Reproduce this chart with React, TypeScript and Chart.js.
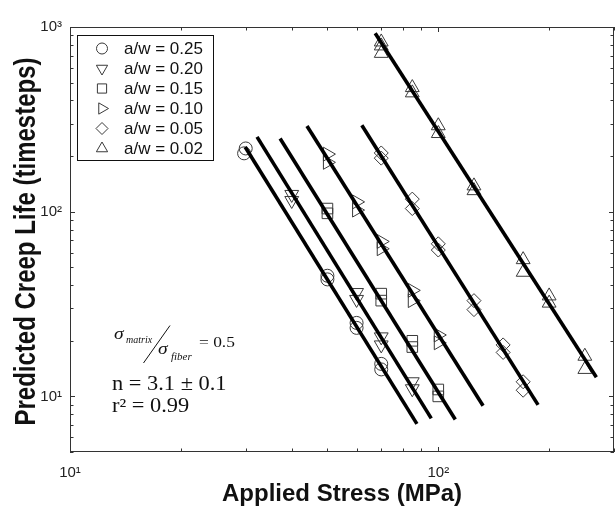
import React, { useEffect, useRef } from 'react';
import { Chart, registerables } from 'chart.js';

Chart.register(...registerables);

// ---- Axis ticks / titles ----
const xTickValues = [10, 100];
const xTickLabels = ['10¹', '10²'];
const yTickValues = [10, 100, 1000];
const yTickLabels = ['10¹', '10²', '10³'];
const xRange = [10, 300];
const yRange = [5, 1000];
const xTitle = 'Applied Stress (MPa)';
const yTitle = 'Predicted Creep Life (timesteps)';

// ---- Series (a/w) ----
const seriesLabels = ['a/w = 0.25', 'a/w = 0.20', 'a/w = 0.15', 'a/w = 0.10', 'a/w = 0.05', 'a/w = 0.02'];

const stress025 = [30, 29.7, 50, 50, 60, 60, 70, 70];
const life025 = [220, 207, 45, 43, 25, 23.5, 15, 14];

const stress020 = [40, 40, 60, 60, 70, 70, 85, 85];
const life020 = [124, 115, 36.5, 33.5, 21, 19, 12, 11];

const stress015 = [50, 50, 70, 70, 85, 85, 100, 100];
const life015 = [104, 98, 36, 33, 20, 18.5, 10.9, 10];

const stress010 = [50, 50, 60, 60, 70, 70, 85, 85, 100, 100];
const life010 = [205, 185, 113, 102, 69, 63, 37.5, 33, 21.5, 19.5];

const stress005 = [70, 70, 85, 85, 100, 100, 125, 125, 150, 150, 170, 170];
const life005 = [208, 195, 117, 104, 67, 62, 33, 29.5, 19, 17.3, 12, 10.8];

const stress002 = [70, 70, 70, 85, 85, 100, 100, 125, 125, 170, 170, 200, 200, 250, 250];
const life002 = [830, 790, 720, 470, 440, 292, 265, 138, 130, 55, 47, 35, 32, 16.5, 14];

// ---- Power-law fit lines (endpoints) ----
const fitStress025 = [29.9, 87.5];
const fitLife025 = [224, 7.1];
const fitStress020 = [32.2, 95.7];
const fitLife020 = [254, 7.6];
const fitStress015 = [37.2, 111.2];
const fitLife015 = [249, 7.5];
const fitStress010 = [44.0, 132.3];
const fitLife010 = [291, 8.9];
const fitStress005 = [62.0, 186.6];
const fitLife005 = [294, 9.0];
const fitStress002 = [67.4, 268.7];
const fitLife002 = [924, 12.7];

const allStress = [stress025, stress020, stress015, stress010, stress005, stress002];
const allLife = [life025, life020, life015, life010, life005, life002];
const allFitStress = [fitStress025, fitStress020, fitStress015, fitStress010, fitStress005, fitStress002];
const allFitLife = [fitLife025, fitLife020, fitLife015, fitLife010, fitLife005, fitLife002];

// marker styling
const markerStyles = ['circle', 'triangle', 'rect', 'triangle', 'rectRot', 'triangle'];
const markerRotations = [0, 180, 0, 90, 0, 0];
const markerRadii = [6.5, 8, 7.5, 8, 7, 8];
const legendRadii = [5.5, 6.5, 6.5, 6.5, 6, 6.5];

const MARKER_COLOR = '#3a3a3a';
const FRAME_COLOR = '#333333';
const SANS = '"Liberation Sans", Arial, Helvetica, sans-serif';
const SERIF = '"Liberation Serif", "Times New Roman", Times, serif';

function drawMarker(ctx: CanvasRenderingContext2D, style: string, rotDeg: number, x: number, y: number, r: number) {
  ctx.save();
  ctx.translate(x, y);
  ctx.rotate((rotDeg * Math.PI) / 180);
  ctx.beginPath();
  if (style === 'circle') {
    ctx.arc(0, 0, r, 0, Math.PI * 2);
  } else if (style === 'triangle') {
    for (let i = 0; i < 3; i++) {
      const a = (i * 2 * Math.PI) / 3;
      const px = Math.sin(a) * r;
      const py = -Math.cos(a) * r;
      if (i === 0) ctx.moveTo(px, py);
      else ctx.lineTo(px, py);
    }
    ctx.closePath();
  } else if (style === 'rect') {
    const s = Math.SQRT1_2 * r;
    ctx.rect(-s, -s, 2 * s, 2 * s);
  } else if (style === 'rectRot') {
    ctx.moveTo(0, -r);
    ctx.lineTo(r, 0);
    ctx.lineTo(0, r);
    ctx.lineTo(-r, 0);
    ctx.closePath();
  }
  ctx.stroke();
  ctx.restore();
}

function stretchedText(ctx: CanvasRenderingContext2D, text: string, x: number, y: number, font: string, sx: number) {
  ctx.save();
  ctx.font = font;
  ctx.translate(x, y);
  ctx.scale(sx, 1);
  ctx.fillText(text, 0, 0);
  ctx.restore();
}

const decorPlugin = {
  id: 'decor',
  afterDraw(chart: any) {
    const { ctx, chartArea } = chart;
    const { left, right, top, bottom } = chartArea;
    const xs = chart.scales.x;
    const ys = chart.scales.y;
    ctx.save();

    // frame
    ctx.strokeStyle = FRAME_COLOR;
    ctx.lineWidth = 1;
    ctx.strokeRect(left + 0.5, top + 0.5, right - left - 1, bottom - top - 1);

    // inward ticks (major + minor)
    ctx.beginPath();
    for (let k = 0; k <= 3; k++) {
      for (let m = 1; m <= 9; m++) {
        const v = m * Math.pow(10, k);
        const len = m === 1 ? 5 : 3.5;
        if (v >= xRange[0] && v <= xRange[1]) {
          const px = Math.round(xs.getPixelForValue(v)) + 0.5;
          ctx.moveTo(px, bottom);
          ctx.lineTo(px, bottom - len);
          ctx.moveTo(px, top);
          ctx.lineTo(px, top + len);
        }
        if (v >= yRange[0] && v <= yRange[1]) {
          const py = Math.round(ys.getPixelForValue(v)) + 0.5;
          ctx.moveTo(left, py);
          ctx.lineTo(left + len, py);
          ctx.moveTo(right, py);
          ctx.lineTo(right - len, py);
        }
      }
    }
    ctx.stroke();

    // y-axis title
    ctx.save();
    ctx.fillStyle = '#111111';
    ctx.font = `bold 24px ${SANS}`;
    ctx.textAlign = 'center';
    ctx.textBaseline = 'alphabetic';
    ctx.translate(35, (top + bottom) / 2 + 2);
    ctx.rotate(-Math.PI / 2);
    ctx.scale(1, 1.2);
    ctx.fillText(yTitle, 0, 0);
    ctx.restore();

    // legend box
    const bx = left + 7;
    const by = top + 8;
    const bw = 136;
    const bh = 125;
    ctx.fillStyle = '#ffffff';
    ctx.fillRect(bx, by, bw, bh);
    ctx.strokeStyle = '#111111';
    ctx.lineWidth = 1;
    ctx.strokeRect(bx + 0.5, by + 0.5, bw, bh);
    ctx.font = `17px ${SANS}`;
    ctx.textBaseline = 'middle';
    ctx.textAlign = 'left';
    seriesLabels.forEach((lab, i) => {
      const ry = by + 13.5 + i * 20;
      ctx.strokeStyle = MARKER_COLOR;
      ctx.lineWidth = 1;
      drawMarker(ctx, markerStyles[i], markerRotations[i], bx + 25, ry, legendRadii[i]);
      ctx.fillStyle = '#111111';
      ctx.fillText(lab, bx + 47, ry + 1);
    });

    // annotation
    ctx.fillStyle = '#111111';
    ctx.textBaseline = 'alphabetic';
    ctx.textAlign = 'left';
    stretchedText(ctx, 'σ', 114, 339, `italic 17px ${SERIF}`, 1.15);
    stretchedText(ctx, 'matrix', 126, 343, `italic 10px ${SERIF}`, 1.0);
    ctx.strokeStyle = '#111111';
    ctx.lineWidth = 1;
    ctx.beginPath();
    ctx.moveTo(143.5, 363);
    ctx.lineTo(170, 325.5);
    ctx.stroke();
    stretchedText(ctx, 'σ', 158, 354, `italic 17px ${SERIF}`, 1.15);
    stretchedText(ctx, 'fiber', 171, 360, `italic 11px ${SERIF}`, 1.0);
    stretchedText(ctx, '= 0.5', 199, 347, `15px ${SERIF}`, 1.16);
    stretchedText(ctx, 'n = 3.1 ± 0.1', 112, 389.5, `20px ${SERIF}`, 1.12);
    stretchedText(ctx, 'r² = 0.99', 112, 411.5, `20px ${SERIF}`, 1.12);

    ctx.restore();
  },
};

export default function App() {
  const canvasRef = useRef<HTMLCanvasElement | null>(null);

  useEffect(() => {
    const canvas = canvasRef.current;
    if (!canvas) return;

    const lineSets = allFitStress.map((xsArr, i) => ({
      label: seriesLabels[i] + ' fit',
      data: xsArr.map((x, j) => ({ x, y: allFitLife[i][j] })),
      showLine: true,
      borderColor: '#000000',
      borderWidth: 3.6,
      pointRadius: 0,
      fill: false,
      order: 0,
    }));

    const pointSets = allStress.map((xsArr, i) => ({
      label: seriesLabels[i],
      data: xsArr.map((x, j) => ({ x, y: allLife[i][j] })),
      showLine: false,
      pointStyle: markerStyles[i],
      pointRotation: markerRotations[i],
      pointRadius: markerRadii[i],
      pointBorderWidth: 1,
      pointBorderColor: MARKER_COLOR,
      pointBackgroundColor: 'rgba(0,0,0,0)',
      borderColor: MARKER_COLOR,
      backgroundColor: 'rgba(0,0,0,0)',
      order: 1,
    }));

    const chart = new Chart(canvas, {
      type: 'scatter',
      data: { datasets: [...lineSets, ...pointSets] as any },
      options: {
        responsive: false,
        animation: false,
        events: [],
        layout: { autoPadding: false, padding: { top: 27, right: 1, left: 0, bottom: 0 } },
        plugins: {
          legend: { display: false },
          tooltip: { enabled: false },
        },
        scales: {
          x: {
            type: 'logarithmic',
            position: 'bottom',
            min: xRange[0],
            max: xRange[1],
            grid: { display: false, drawTicks: false },
            border: { display: false },
            afterBuildTicks: (scale: any) => {
              scale.ticks = xTickValues.map((v) => ({ value: v }));
            },
            afterFit: (scale: any) => {
              scale.height = 60;
              scale.paddingLeft = 0;
              scale.paddingRight = 0;
            },
            ticks: {
              autoSkip: false,
              maxRotation: 0,
              padding: 12,
              color: '#222222',
              font: { family: SANS, size: 15 },
              callback: (value: any) => {
                const idx = xTickValues.indexOf(Number(value));
                return idx >= 0 ? xTickLabels[idx] : '';
              },
            },
            title: {
              display: true,
              text: xTitle,
              color: '#111111',
              font: { family: SANS, size: 24, weight: 'bold' },
              padding: { top: 0, bottom: 3 },
            },
          },
          y: {
            type: 'logarithmic',
            position: 'left',
            min: yRange[0],
            max: yRange[1],
            grid: { display: false, drawTicks: false },
            border: { display: false },
            afterBuildTicks: (scale: any) => {
              scale.ticks = yTickValues.map((v) => ({ value: v }));
            },
            afterFit: (scale: any) => {
              scale.width = 70;
              scale.paddingTop = 0;
              scale.paddingBottom = 0;
            },
            ticks: {
              autoSkip: false,
              padding: 8,
              color: '#222222',
              font: { family: SANS, size: 15 },
              callback: (value: any) => {
                const idx = yTickValues.indexOf(Number(value));
                return idx >= 0 ? yTickLabels[idx] : '';
              },
            },
            title: { display: false, text: yTitle },
          },
        },
      },
      plugins: [decorPlugin],
    });

    return () => chart.destroy();
  }, []);

  return (
    <div style={{ position: 'fixed', left: 0, top: 0, width: 615, height: 512, background: '#ffffff' }}>
      <canvas ref={canvasRef} width={615} height={512} style={{ display: 'block', width: 615, height: 512 }} />
    </div>
  );
}
